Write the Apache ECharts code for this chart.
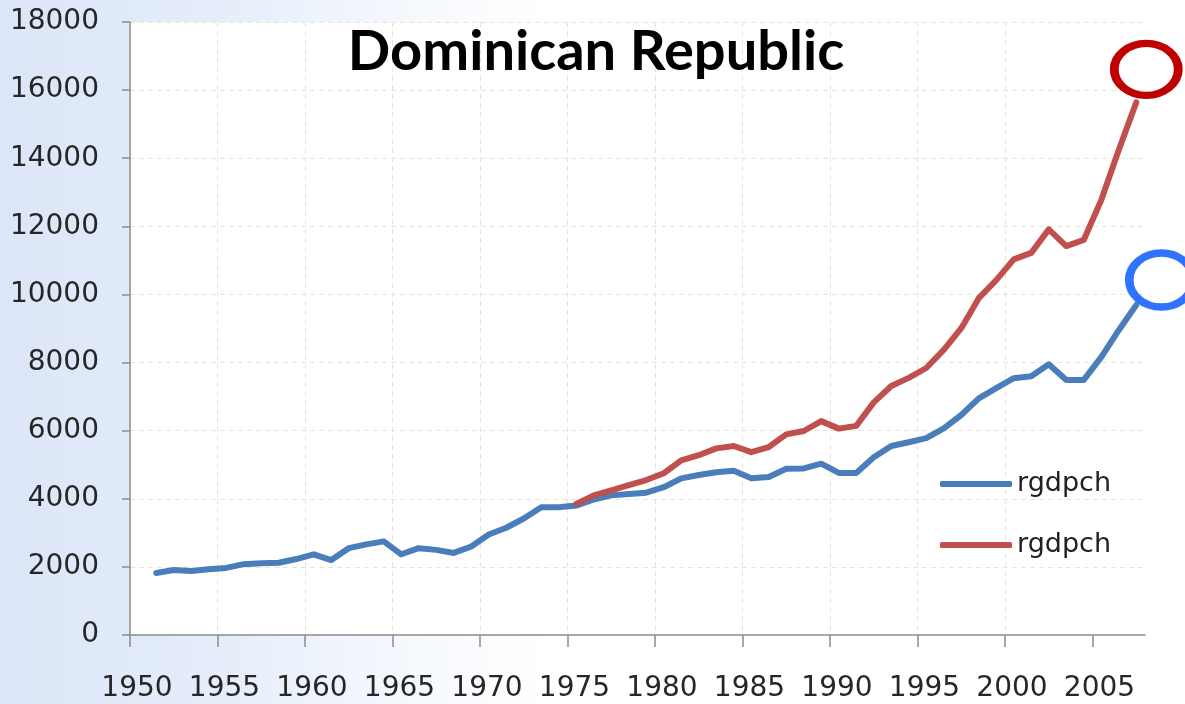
<!DOCTYPE html>
<html>
<head>
<meta charset="utf-8">
<script src="https://cdn.jsdelivr.net/npm/echarts@6/dist/echarts.min.js"></script>
<style>
  html, body { margin: 0; padding: 0; }
  body { width: 1185px; height: 704px; background: linear-gradient(to right, #dce6f8 0%, #e5edfa 18%, #f3f7fd 32%, #ffffff 46%); }
  #chart { width: 1185px; height: 704px; }
</style>
</head>
<body>
<div id="chart"></div>
<script>
// Years of the category band (Excel-style category axis, points centred in each year's band)
const blueYears = [];
for (let y = 1951; y <= 2007; y++) blueYears.push(y);
const redYears = [];
for (let y = 1975; y <= 2007; y++) redYears.push(y);

const blueValues = [
  1820, 1910, 1880, 1930, 1970, 2080, 2110, 2120, 2230, 2370,
  2200, 2550, 2660, 2750, 2370, 2550, 2500, 2410, 2600, 2950,
  3150, 3420, 3750, 3750, 3800, 3980, 4100, 4140, 4180, 4340,
  4600, 4700, 4780, 4820, 4600, 4640, 4880, 4890, 5030, 4760,
  4760, 5220, 5550, 5660, 5780, 6070, 6460, 6950, 7250, 7540,
  7600, 7950, 7490, 7490, 8160, 8950, 9690
];
const redValues = [
  3850, 4100, 4250, 4400, 4550, 4750, 5130, 5280, 5480, 5550,
  5370, 5520, 5890, 5990, 6280, 6060, 6140, 6830, 7310, 7550,
  7840, 8370, 9010, 9890, 10420, 11030, 11220, 11910, 11420, 11600,
  12770, 14240, 15640
];
const xTickLabels = [1950, 1955, 1960, 1965, 1970, 1975, 1980, 1985, 1990, 1995, 2000, 2005];
const seriesLabel = 'rgdpch';
const titleText = 'Dominican Republic';

const blueData = blueYears.map((y, i) => [y + 0.5, blueValues[i]]);
const redData = redYears.map((y, i) => [y + 0.5, redValues[i]]);

const chart = echarts.init(document.getElementById('chart'), null, { renderer: 'canvas' });
const axisFont = 'DejaVu Sans';
chart.setOption({
  animation: false,
  backgroundColor: 'transparent',
  title: {
    text: titleText,
    left: 591, top: 19,
    textAlign: 'center',
    textStyle: { fontFamily: 'Lato', fontWeight: 'bold', fontSize: 56, color: '#000' }
  },
  legend: {
    orient: 'vertical',
    left: 940, top: 469,
    padding: 0,
    itemWidth: 72, itemHeight: 6,
    itemGap: 31,
    icon: 'roundRect',
    data: ['rgdpch-blue', 'rgdpch-red'],
    formatter: () => seriesLabel,
    textStyle: { fontFamily: axisFont, fontSize: 27, color: '#222', lineHeight: 30 }
  },
  grid: { left: 130, right: 40, top: 22, bottom: 69, show: true, backgroundColor: '#ffffff', borderWidth: 0 },
  xAxis: {
    type: 'value',
    min: 1950, max: 2008, interval: 5,
    axisLine: { lineStyle: { color: '#8c8c8c', width: 1.5 } },
    axisTick: { show: true, length: 12, inside: false, customValues: xTickLabels, lineStyle: { color: '#8c8c8c', width: 1.5 } },
    axisLabel: {
      customValues: xTickLabels,
      fontFamily: axisFont, fontSize: 28, color: '#262626', margin: 40,
      padding: [0, 0, 0, 14],
      formatter: v => String(v)
    },
    splitLine: { show: true, showMinLine: false, showMaxLine: false, lineStyle: { color: '#e8e5d3', type: [5, 4], width: 1 } }
  },
  yAxis: {
    type: 'value',
    min: 0, max: 18000, interval: 2000,
    axisLine: { show: true, lineStyle: { color: '#8c8c8c', width: 1.5 } },
    axisTick: { show: true, length: 8, lineStyle: { color: '#8c8c8c', width: 1.5 } },
    axisLabel: { fontFamily: axisFont, fontSize: 28, color: '#262626', margin: 31, formatter: v => String(v) },
    splitLine: { show: true, showMinLine: false, lineStyle: { color: '#e8e5d3', type: [5, 4], width: 1 } }
  },
  series: [
    {
      name: 'rgdpch-blue', type: 'line', data: blueData,
      symbol: 'none', color: '#4a7ebb',
      lineStyle: { width: 6, color: '#4a7ebb', cap: 'round', join: 'round' },
      markPoint: {
        symbol: 'circle', symbolSize: [64, 54], symbolOffset: [25, -25],
        itemStyle: { color: 'rgba(0,0,0,0)', borderColor: '#2f74ff', borderWidth: 8 },
        label: { show: false },
        data: [{ coord: blueData[blueData.length - 1] }]
      }
    },
    {
      name: 'rgdpch-red', type: 'line', data: redData,
      symbol: 'none', color: '#c0504d',
      lineStyle: { width: 6, color: '#c0504d', cap: 'round', join: 'round' },
      markPoint: {
        symbol: 'circle', symbolSize: [64, 52], symbolOffset: [10, -33],
        itemStyle: { color: 'rgba(0,0,0,0)', borderColor: '#c00000', borderWidth: 8 },
        label: { show: false },
        data: [{ coord: redData[redData.length - 1] }]
      }
    }
  ]
});
</script>
</body>
</html>
